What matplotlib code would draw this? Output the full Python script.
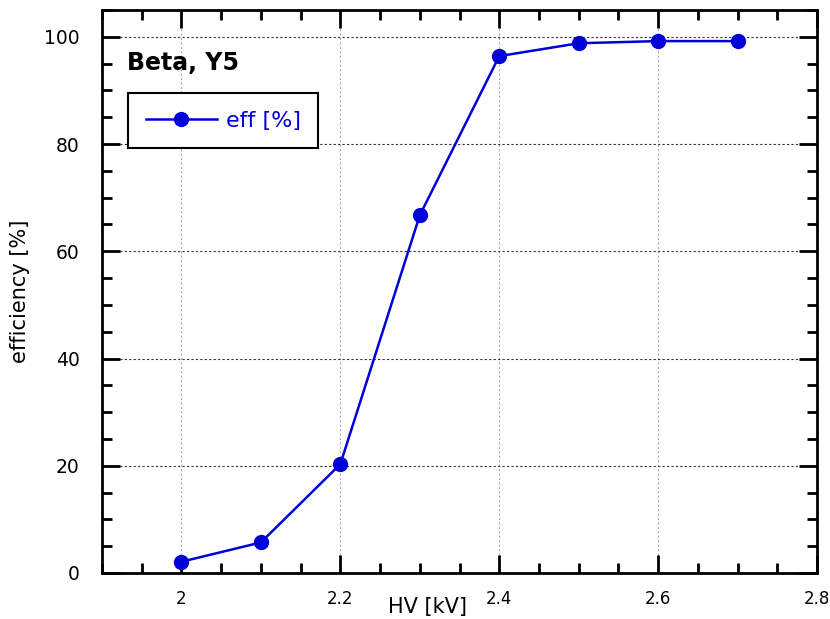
import matplotlib
matplotlib.use("Agg")
import matplotlib.pyplot as plt
from matplotlib.ticker import MultipleLocator

hv = [2.0, 2.1, 2.2, 2.3, 2.4, 2.5, 2.6, 2.7]
eff = [2.1, 5.7, 20.3, 66.7, 96.4, 98.8, 99.2, 99.2]
xticks = [2.0, 2.2, 2.4, 2.6, 2.8]
xticklabels = ["2", "2.2", "2.4", "2.6", "2.8"]
yticks = [0, 20, 40, 60, 80, 100]

plt.rcParams['font.family'] = ['DejaVu Sans']
fig = plt.figure(figsize=(8.3, 6.19), dpi=100)
ax = fig.add_axes([102/830, 46/619, 715/830, 563/619])

ax.plot(hv, eff, color='#0000d8', lw=1.8, marker='o', ms=10, label='eff [%]', zorder=3)
ax.set_xlim(1.9, 2.8)
ax.set_ylim(0, 105)
ax.set_xticks(xticks)
ax.set_xticklabels(xticklabels)
ax.set_yticks(yticks)
ax.xaxis.set_minor_locator(MultipleLocator(0.05))
ax.yaxis.set_minor_locator(MultipleLocator(5))
ax.tick_params(which='both', direction='in', top=True, right=True, width=2)
ax.tick_params(which='major', length=13)
ax.tick_params(which='minor', length=7)
ax.tick_params(axis='x', which='major', pad=12, labelsize=12)
ax.tick_params(axis='y', which='major', pad=16, labelsize=13.5)
for s in ax.spines.values():
    s.set_linewidth(2)
ax.xaxis.grid(True, which='major', color='#aaaaaa', ls=(0, (2, 2)), lw=0.8)
ax.yaxis.grid(True, which='major', color='#333333', ls=(0, (2, 2)), lw=0.8)

fig.text(427/830, 2/619, 'HV [kV]', fontsize=15, ha='center', va='bottom')
ax.set_ylabel('efficiency [%]', fontsize=15, labelpad=10)
ax.text(0.035, 0.905, 'Beta, Y5', transform=ax.transAxes, fontsize=17, fontweight='bold', va='center')
leg = ax.legend(loc='upper left', bbox_to_anchor=(0.036, 0.853), borderaxespad=0, fontsize=16,
                frameon=True, fancybox=False, edgecolor='black', handlelength=3.2, borderpad=0.8,
                handletextpad=0.4, labelcolor='#0000d8')
leg.get_frame().set_linewidth(1.5)
leg.get_frame().set_alpha(1)

fig.savefig('out.png', dpi=100)
